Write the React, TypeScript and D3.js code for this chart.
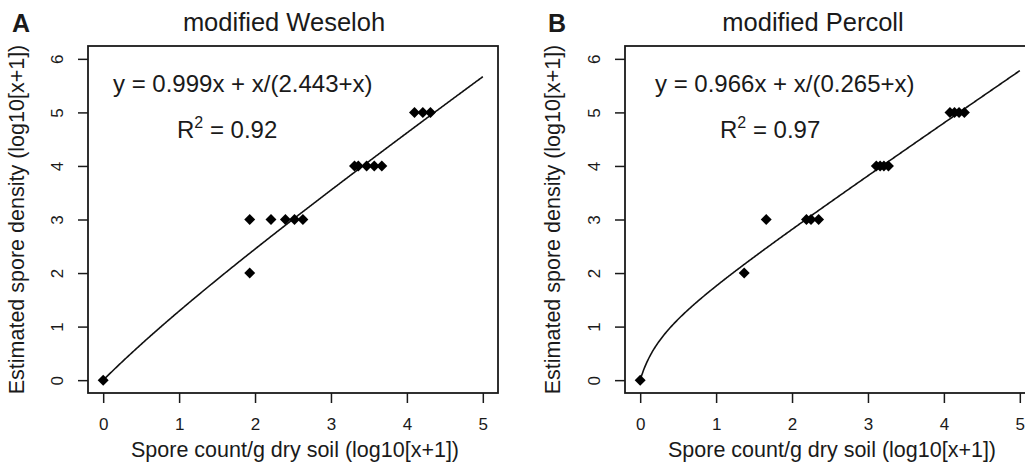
import React, { useEffect, useRef } from 'react';
import * as d3 from 'd3';

// panel A: modified Weseloh
const weselohX = [0, 1.93, 1.93, 2.21, 2.4, 2.52, 2.63, 3.31, 3.36, 3.47, 3.57, 3.67, 4.1, 4.21, 4.31];
const weselohY = [0, 2, 3, 3, 3, 3, 3, 4, 4, 4, 4, 4, 5, 5, 5];
const weselohFit = [0.999, 2.443];

// panel B: modified Percoll
const percollX = [0, 1.37, 1.66, 2.19, 2.25, 2.35, 3.11, 3.16, 3.21, 3.27, 4.08, 4.14, 4.2, 4.27];
const percollY = [0, 2, 3, 3, 3, 3, 4, 4, 4, 4, 5, 5, 5, 5];
const percollFit = [0.966, 0.265];

const xTicks = [0, 1, 2, 3, 4, 5];
const yTicks = [0, 1, 2, 3, 4, 5, 6];

const panels = [
  { tag: 'A', title: 'modified Weseloh', xs: weselohX, ys: weselohY, fit: weselohFit, eq: 'y = 0.999x + x/(2.443+x)', r2: '0.92' },
  { tag: 'B', title: 'modified Percoll', xs: percollX, ys: percollY, fit: percollFit, eq: 'y = 0.966x + x/(0.265+x)', r2: '0.97' },
];

const FONT = '"Liberation Sans", Arial, Helvetica, sans-serif';

export default function App() {
  const ref = useRef<SVGSVGElement>(null);

  useEffect(() => {
    const svg = d3.select(ref.current);
    svg.selectAll('*').remove();

    const width = 410;
    const top = 46;
    const bottom = 393;

    panels.forEach((p, i) => {
      const left = i === 0 ? 88 : 625;
      const g = svg.append('g').attr('font-family', FONT).attr('fill', '#1a1a1a');

      const x = d3.scaleLinear().domain([-0.2, 5.2]).range([left, left + width]);
      const y = d3.scaleLinear().domain([-0.24, 6.24]).range([bottom, top]);

      // panel letter + title
      g.append('text')
        .attr('x', i === 0 ? 12 : 548)
        .attr('y', 32)
        .attr('font-size', 25)
        .attr('font-weight', 'bold')
        .text(p.tag);
      g.append('text')
        .attr('x', i === 0 ? 284 : 813)
        .attr('y', 31)
        .attr('text-anchor', 'middle')
        .attr('font-size', 25.5)
        .text(p.title);

      // x axis
      const xAxis = g.append('g')
        .attr('transform', 'translate(0,' + bottom + ')')
        .call(d3.axisBottom(x).tickValues(xTicks).tickSize(10).tickFormat(d3.format('d')));
      xAxis.select('.domain').remove();
      xAxis.selectAll('line').attr('stroke', '#1a1a1a').attr('stroke-width', 1.5);
      xAxis.selectAll('text')
        .attr('y', 37).attr('dy', 0)
        .attr('font-size', 17).attr('font-family', FONT).attr('fill', '#1a1a1a');

      // y axis, labels rotated like R's las = 0
      const yAxis = g.append('g')
        .attr('transform', 'translate(' + left + ',0)')
        .call(d3.axisLeft(y).tickValues(yTicks).tickSize(10).tickFormat(d3.format('d')));
      yAxis.select('.domain').remove();
      yAxis.selectAll('line').attr('stroke', '#1a1a1a').attr('stroke-width', 1.5);
      yAxis.selectAll('text')
        .attr('transform', 'rotate(-90)')
        .attr('x', 0).attr('y', -25).attr('dy', 0)
        .attr('text-anchor', 'middle')
        .attr('font-size', 17).attr('font-family', FONT).attr('fill', '#1a1a1a');

      // axis titles
      g.append('text')
        .attr('x', left + width / 2 + 2)
        .attr('y', 457)
        .attr('text-anchor', 'middle')
        .attr('font-size', 21.5)
        .text('Spore count/g dry soil (log10[x+1])');
      const ty = (top + bottom) / 2;
      const tx = i === 0 ? 24 : 560;
      g.append('text')
        .attr('transform', 'translate(' + tx + ',' + ty + ') rotate(-90)')
        .attr('text-anchor', 'middle')
        .attr('font-size', 21.5)
        .text('Estimated spore density (log10[x+1])');

      // fitted curve y = a*x + x/(b+x)
      const [a, b] = p.fit;
      const curveX = d3.range(0, 5.0001, 0.01);
      const line = d3.line<number>()
        .x(d => x(d))
        .y(d => y(a * d + d / (b + d)));
      g.append('path')
        .attr('d', line(curveX))
        .attr('fill', 'none')
        .attr('stroke', '#111')
        .attr('stroke-width', 1.6);

      // points (filled diamonds, pch 18)
      const diamond = d3.symbol().type(d3.symbolSquare).size(60);
      g.append('g')
        .selectAll('path')
        .data(p.xs.map((v, k) => [v, p.ys[k]]))
        .enter()
        .append('path')
        .attr('d', diamond)
        .attr('transform', d => 'translate(' + x(d[0]) + ',' + y(d[1]) + ') rotate(45)')
        .attr('fill', '#000');

      // box
      g.append('rect')
        .attr('x', left)
        .attr('y', top)
        .attr('width', width)
        .attr('height', bottom - top)
        .attr('fill', 'none')
        .attr('stroke', '#1a1a1a')
        .attr('stroke-width', 1.8);

      // annotations
      const ex = i === 0 ? 113 : 655;
      g.append('text')
        .attr('x', ex)
        .attr('y', 92)
        .attr('font-size', 24)
        .text(p.eq);
      const r = g.append('text')
        .attr('x', ex + (i === 0 ? 64 : 65))
        .attr('y', 138)
        .attr('font-size', 24);
      r.append('tspan').text('R');
      r.append('tspan').attr('font-size', 16).attr('dy', -10).text('2');
      r.append('tspan').attr('dy', 10).text(' = ' + p.r2);
    });
  }, []);

  return (
    <svg
      ref={ref}
      width={1025}
      height={468}
      style={{ position: 'absolute', left: 0, top: 0, background: '#fff' }}
    />
  );
}
